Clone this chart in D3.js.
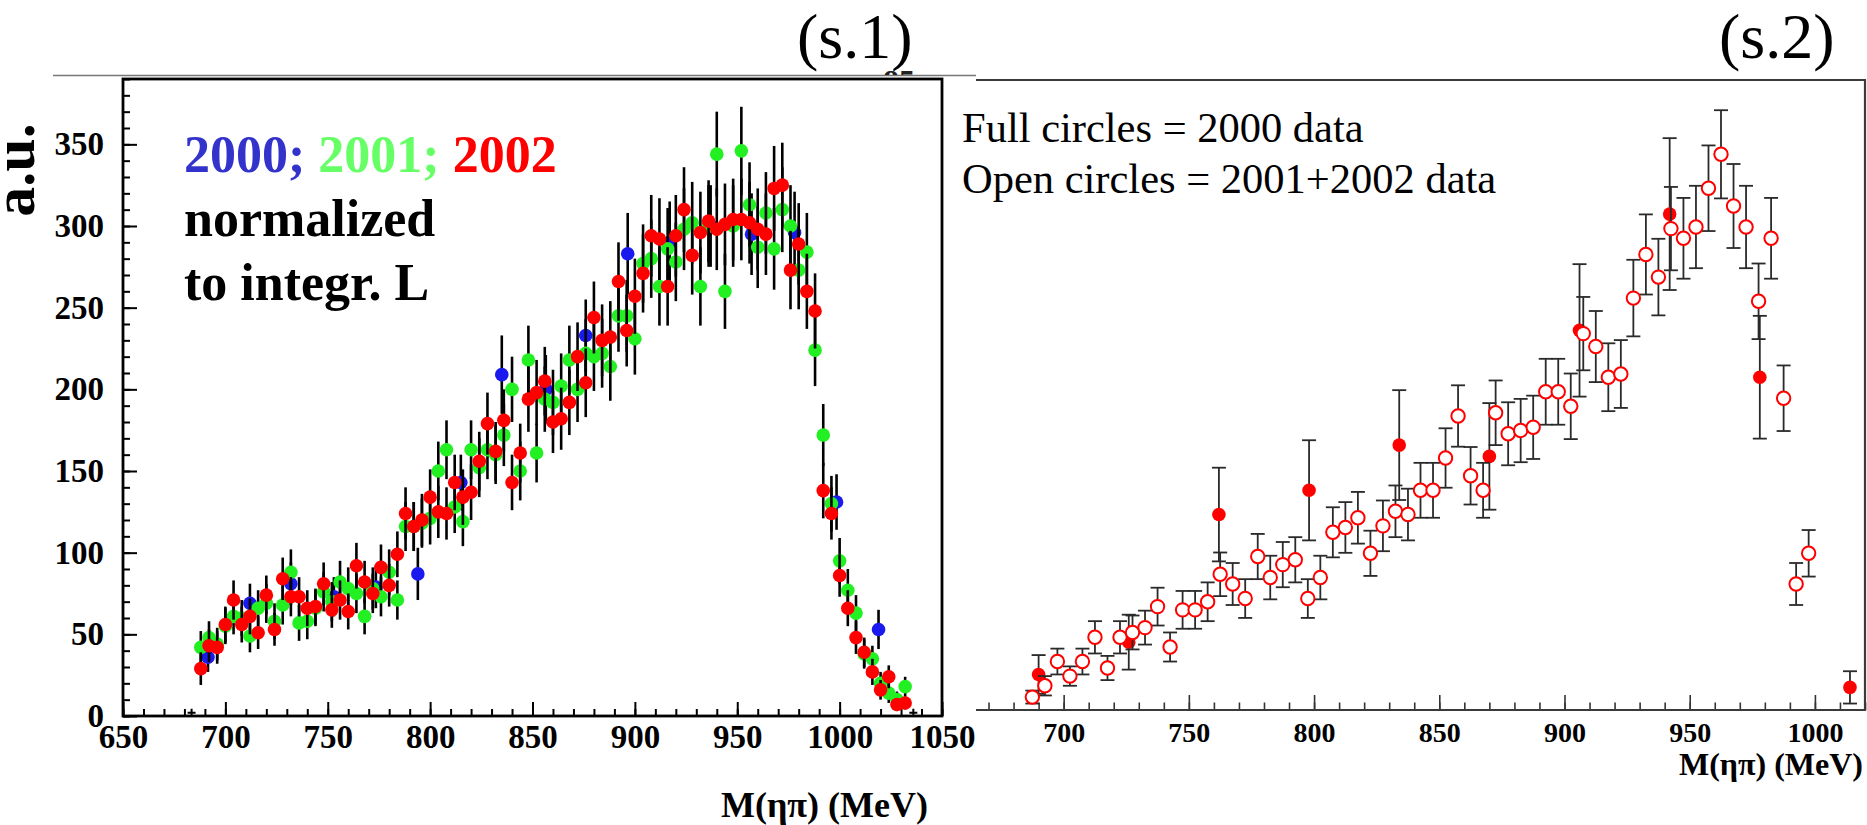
<!DOCTYPE html>
<html><head><meta charset="utf-8">
<script src="https://cdn.jsdelivr.net/npm/d3@7"></script>
<style>
body{margin:0;background:#fff;}
svg{display:block;}
</style></head><body>
<svg id="chart" width="1867" height="825"></svg>
<script>
// ---------- LEFT PANEL (s.1) DATA ----------
const binMass = [688,692,696,700,704,708,712,716,720,724,728,732,736,740,744,748,752,756,760,764,768,772,776,780,784,788,792,796,800,804,808,812,816,820,824,828,832,836,840,844,848,852,856,860,864,868,872,876,880,884,888,892,896,900,904,908,912,916,920,924,928,932,936,940,944,948,952,956,960,964,968,972,976,980,984,988,992,996,1000,1004,1008,1012,1016,1020,1024,1028,1032];
const val2002 = [29,43,42,56,71,56,61,51,74,53, 84,73,73,66,67,81,65,71,64,92, 82,75,91,80,99,124,116,120,134,125, 124,143,134,137,156,179,162,181,143,161, 194,198,205,180,182,192,220,204,244,230, 232,266,236,257,271,294,292,263,294,310, 282,296,303,298,301,304,304,302,298,295, 323,325,273,289,260,248,138,124,86,66, 48,39,27,16,24,7,8];
const err2002 = [10,10,10,11,12,11,11,10,12,10, 13,12,12,11,11,13,11,12,11,14, 13,12,14,13,14,16,15,16,17,16, 16,17,17,17,18,19,18,19,17,18, 20,20,21,19,19,20,21,21,22,22, 22,24,22,23,24,25,25,24,25,26, 24,25,25,25,25,25,25,25,25,25, 26,26,24,25,23,23,17,16,13,11, 10,9,8,6,7,4,4];
const val2001 = [42,48,44,55,61,60,49,66,69,58, 68,88,57,58,66,76,70,82,78,75, 61,78,73,88,71,116,116,118,121,150, 163,128,119,163,152,163,160,172,200,150, 218,161,194,192,202,218,200,222,220,222, 214,245,245,231,277,280,263,286,278,298, 302,263,300,344,260,300,346,313,287,308, 286,310,300,273,284,224,172,130,95,77, 63,38,35,20,14,10,18];
const err2001 = [10,10,10,11,11,11,10,11,12,11, 12,14,11,11,11,12,12,13,13,12, 11,13,12,14,12,15,15,15,16,18, 18,16,15,18,18,18,18,19,20,18, 21,18,20,20,20,21,20,21,21,21, 21,22,22,22,24,24,24,25,24,25, 25,24,25,26,23,25,27,26,25,25, 25,26,25,24,24,22,19,17,14,13, 11,9,8,7,6,5,6];
const mass2000 = [691.5,712,732,753,773.5,794,815,835,856.5,876,896.5,917,937,957,978,998.5,1019];
const val2000 = [36,69,81,73,79,87,143,209,200,233,283,290,300,295,296,131,53];
const err2000 = [9,12,13,12,13,16,17,24,21,22,25,25,25,25,25,17,12];
const leftXTicks = [650,700,750,800,850,900,950,1000,1050];
const leftYTicks = [0,50,100,150,200,250,300,350];
const edgeMarks = [683.5,1036];

// ---------- RIGHT PANEL (s.2) DATA ----------
const openMass = [687.5,692.5,697.5,702.5,707.5,712.5,717.5,722.5,727.5,732.5,737.5,742.5,747.5,752.5,757.5,762.5,767.5,772.5,777.5,782.5,787.5,792.5,797.5,802.5,807.5,812.5,817.5,822.5,827.5,832.5,837.5,842.5,847.5,852.5,857.5,862.5,867.5,872.5,877.5,882.5,887.5,892.5,897.5,902.5,907.5,912.5,917.5,922.5,927.5,932.5,937.5,942.5,947.5,952.5,957.5,962.5,967.5,972.5,977.5,982.5,987.5,992.5,997.5];
const openVal = [8,15,30,21,30,45,26,45,48,51, 64,39,62,62,67,84,78,69,95,82, 90,93,69,82,110,113,119,97,114,123, 121,136,136,156,182,145,136,184,171,173, 175,197,197,188,233,225,206,208,255,282, 268,298,292,299,323,344,312,299,253,292, 193,78,97];
const openErr = [4,6,8,6,8,10,7.5,10,10.5,10.5, 11.7,9,11.7,11.7,12,13.5,13,12,14,13.5, 14,14,12,13.5,15.5,15.7,16,14,15.7,16, 16,17,17,18.4,19,17.8,17,20,19.5,19.6, 19.6,20.4,20.4,20.3,22.7,22,21,21,23.7,24.8, 23.7,25.8,25,25.5,26.5,27.3,26,25.5,23.4,25, 20.3,13,14.4];
const fullMass = [690,726,762,798,834,870,906,942,978,1014];
const fullVal = [22,42,121,136,164,157,235,307,206,14];
const fullErr = [12,17,29,31,34,33,41,47,38,10];
const rightXTicks = [700,750,800,850,900,950,1000];

// ---------- DRAWING ----------
const FONT = '"Liberation Serif","Times New Roman",serif';
const svg = d3.select("#chart");

// top rule line
svg.append("line").attr("x1",53).attr("x2",976).attr("y1",75.5).attr("y2",75.5)
  .attr("stroke","#777").attr("stroke-width",1.5);

// clipped "85" artefact
svg.append("clipPath").attr("id","clip85").append("rect")
  .attr("x",870).attr("y",64).attr("width",60).attr("height",11);
svg.append("text").attr("clip-path","url(#clip85)")
  .attr("x",883).attr("y",92).attr("font-family",FONT).attr("font-weight","bold")
  .attr("font-size",32).attr("fill","#222").text("85");

// titles
svg.append("text").attr("x",797).attr("y",58).attr("font-family",FONT)
  .attr("font-size",64).attr("fill","#000").text("(s.1)");
svg.append("text").attr("x",1719).attr("y",58).attr("font-family",FONT)
  .attr("font-size",64).attr("fill","#000").text("(s.2)");

// ===== LEFT PANEL =====
const xL = d3.scaleLinear().domain([650,1050]).range([123,942]);
const yL = d3.scaleLinear().domain([0,390]).range([716,79]);
const gL = svg.append("g");

function styleAxis(g, size, color, sw){
  g.select(".domain").remove();
  g.selectAll(".tick line").attr("stroke",color).attr("stroke-width",sw);
  g.selectAll(".tick text").attr("font-family",FONT).attr("font-weight","bold")
    .attr("font-size",size).attr("fill","#000");
}
// minor ticks
gL.append("g").attr("transform",`translate(0,${yL(0)})`)
  .call(d3.axisBottom(xL).tickValues(xL.ticks(40)).tickSize(-7).tickFormat(""))
  .call(g=>styleAxis(g,33,"#000",2));
gL.append("g").attr("transform",`translate(${xL(650)},0)`)
  .call(d3.axisLeft(yL).tickValues(yL.ticks(39)).tickSize(-7).tickFormat(""))
  .call(g=>styleAxis(g,33,"#000",2));
// major ticks
gL.append("g").attr("transform",`translate(0,${yL(0)})`)
  .call(d3.axisBottom(xL).tickValues(leftXTicks).tickSize(-14).tickPadding(9).tickFormat(d3.format("d")))
  .call(g=>styleAxis(g,33,"#000",2));
gL.append("g").attr("transform",`translate(${xL(650)},0)`)
  .call(d3.axisLeft(yL).tickValues(leftYTicks).tickSize(-14).tickPadding(19).tickFormat(d3.format("d")))
  .call(g=>styleAxis(g,33,"#000",2));

// frame
gL.append("rect").attr("x",xL(650)).attr("y",yL(390)).attr("width",xL(1050)-xL(650))
  .attr("height",yL(0)-yL(390)).attr("fill","none").attr("stroke","#000").attr("stroke-width",2.8);

// edge "+" markers
gL.selectAll("path.edge").data(edgeMarks).join("path").attr("class","edge")
  .attr("transform",d=>`translate(${xL(d)},${yL(2)})`)
  .attr("d","M-4,0H4M0,-4V4").attr("stroke","#000").attr("stroke-width",2);

gL.append("clipPath").attr("id","clipL").append("rect")
  .attr("x",xL(650)+1).attr("y",yL(390)+1).attr("width",xL(1050)-xL(650)-2).attr("height",yL(0)-yL(390)-2);
const plotL = gL.append("g").attr("clip-path","url(#clipL)");

const seriesL = [
  {m:mass2000, v:val2000, e:err2000, c:"#1a1aee"},
  {m:binMass, v:val2001, e:err2001, c:"#22f022"},
  {m:binMass, v:val2002, e:err2002, c:"#ff0000"}
];
seriesL.forEach(s=>{
  const pts = s.m.map((m,i)=>({m:m, v:s.v[i], e:s.e[i]}));
  const g = plotL.append("g");
  g.selectAll("line").data(pts).join("line")
    .attr("x1",d=>xL(d.m)).attr("x2",d=>xL(d.m))
    .attr("y1",d=>yL(d.v-d.e)).attr("y2",d=>yL(d.v+d.e))
    .attr("stroke","#000").attr("stroke-width",2.6);
  g.selectAll("circle").data(pts).join("circle")
    .attr("cx",d=>xL(d.m)).attr("cy",d=>yL(d.v)).attr("r",6.8).attr("fill",s.c);
});

// labels in left panel
const leg = gL.append("text").attr("x",184).attr("y",172).attr("font-family",FONT)
  .attr("font-weight","bold").attr("font-size",52);
leg.append("tspan").attr("fill","#3333cc").text("2000; ");
leg.append("tspan").attr("fill","#66ff66").text("2001; ");
leg.append("tspan").attr("fill","#ff0000").text("2002");
gL.append("text").attr("x",184).attr("y",236).attr("font-family",FONT)
  .attr("font-weight","bold").attr("font-size",52).attr("fill","#000").text("normalized");
gL.append("text").attr("x",184).attr("y",300).attr("font-family",FONT)
  .attr("font-weight","bold").attr("font-size",52).attr("fill","#000").text("to integr. L");

// y-axis label
gL.append("text").attr("transform","translate(34,170) rotate(-90)")
  .attr("text-anchor","middle").attr("font-family",FONT).attr("font-weight","bold")
  .attr("font-size",60).attr("fill","#000").text("a.u.");
// x-axis label
gL.append("text").attr("x",928).attr("y",817).attr("text-anchor","end")
  .attr("font-family",FONT).attr("font-weight","bold").attr("font-size",36)
  .attr("fill","#000").text("M(ηπ) (MeV)");

// ===== RIGHT PANEL =====
const xR = d3.scaleLinear().domain([665,1020]).range([976,1865]);
const yR = d3.scaleLinear().domain([0,390]).range([710,80]);
const gR = svg.append("g");

gR.append("g").attr("transform",`translate(0,${yR(0)})`)
  .call(d3.axisBottom(xR).tickValues(xR.ticks(35)).tickSize(-7.5).tickFormat(""))
  .call(g=>styleAxis(g,28,"#333",1.6));
gR.append("g").attr("transform",`translate(0,${yR(0)})`)
  .call(d3.axisBottom(xR).tickValues(rightXTicks).tickSize(-15).tickPadding(12).tickFormat(d3.format("d")))
  .call(g=>styleAxis(g,28,"#333",1.6));

// frame: top, right, bottom (no left)
gR.append("path")
  .attr("d",`M${xR(665)},${yR(390)}H${xR(1020)}V${yR(0)}H${xR(665)}`)
  .attr("fill","none").attr("stroke","#3a3a3a").attr("stroke-width",2.2);

function drawR(mass, vals, errs, filled){
  const pts = mass.map((m,i)=>({m:m, v:vals[i], e:errs[i]}));
  const g = gR.append("g");
  const eb = g.selectAll("g.eb").data(pts).join("g").attr("class","eb")
    .attr("stroke","#2a2a2a").attr("stroke-width",1.8);
  eb.append("line").attr("x1",d=>xR(d.m)).attr("x2",d=>xR(d.m))
    .attr("y1",d=>yR(d.v-d.e)).attr("y2",d=>yR(d.v+d.e));
  eb.append("line").attr("x1",d=>xR(d.m)-7).attr("x2",d=>xR(d.m)+7)
    .attr("y1",d=>yR(d.v+d.e)).attr("y2",d=>yR(d.v+d.e));
  eb.append("line").attr("x1",d=>xR(d.m)-7).attr("x2",d=>xR(d.m)+7)
    .attr("y1",d=>yR(d.v-d.e)).attr("y2",d=>yR(d.v-d.e));
  g.selectAll("circle").data(pts).join("circle")
    .attr("cx",d=>xR(d.m)).attr("cy",d=>yR(d.v))
    .attr("r",filled?6.8:6.7)
    .attr("fill",filled?"#ff0000":"#fff")
    .attr("stroke","#ff0000").attr("stroke-width",filled?0:2);
}
drawR(fullMass, fullVal, fullErr, true);
drawR(openMass, openVal, openErr, false);

gR.append("text").attr("x",962).attr("y",142).attr("font-family",FONT)
  .attr("font-size",42.5).attr("fill","#000").text("Full circles = 2000 data");
gR.append("text").attr("x",962).attr("y",193).attr("font-family",FONT)
  .attr("font-size",42.5).attr("fill","#000").text("Open circles = 2001+2002 data");

gR.append("text").attr("x",1863).attr("y",775).attr("text-anchor","end")
  .attr("font-family",FONT).attr("font-weight","bold").attr("font-size",32)
  .attr("fill","#000").text("M(ηπ) (MeV)");
</script>
</body></html>
